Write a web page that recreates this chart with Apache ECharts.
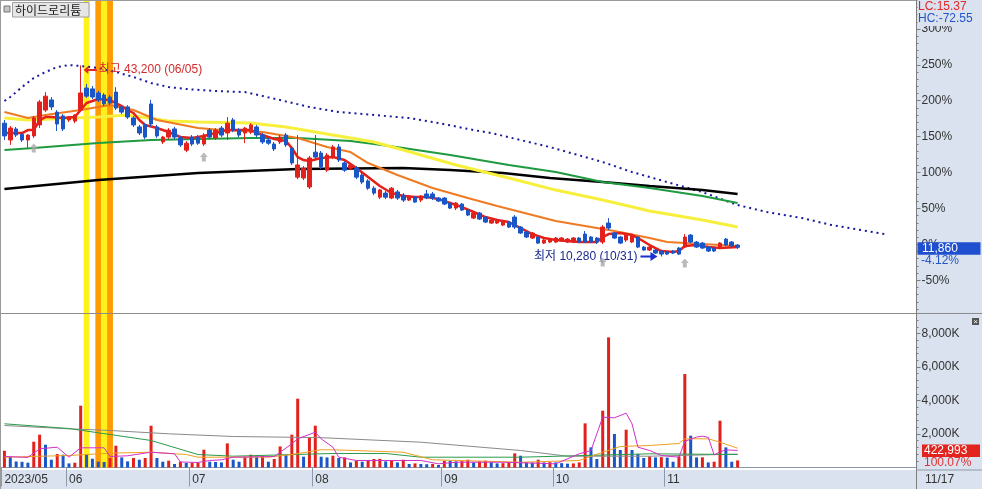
<!DOCTYPE html>
<html><head><meta charset="utf-8">
<script src="https://cdn.jsdelivr.net/npm/echarts@6/dist/echarts.min.js"></script>
<style>html,body{margin:0;padding:0;background:#fff}#c{width:982px;height:489px}</style>
</head><body><div id="c"></div>
<script>
// ---------------- data ----------------
const stockName = '하이드로리튬';
const months = ['2023/05','2023/06','2023/07','2023/08','2023/09','2023/10','2023/11'];
const daysByMonth = [
  [16,17,18,19,22,23,24,25,26,30,31],
  [1,2,5,7,8,9,12,13,14,15,16,19,20,21,22,23,26,27,28,29,30],
  [3,4,5,6,7,10,11,12,13,14,17,18,19,20,21,24,25,26,27,28,31],
  [1,2,3,4,7,8,9,10,11,14,16,17,18,21,22,23,24,25,28,29,30,31],
  [1,4,5,6,7,8,11,12,13,14,15,18,19,20,21,22,25,26,27],
  [4,5,6,10,11,12,13,16,17,18,19,20,23,24,25,26,27,30,31],
  [1,2,3,6,7,8,9,10,13,14,15,16,17]
];
const futureSlots = 30;
// [open, close, low, high]
const ohlc = [
[33250,31050,30350,33800],[30350,32400,29500,32750],[32250,31200,30850,32600],[31350,30350,30000,31700],
[30350,31200,28950,31350],[31050,34150,30700,34500],[32950,36900,32400,37250],[35500,37900,35150,38600],
[37250,36050,35500,37750],[35150,33100,31900,35500],[34500,32250,31900,34800],[33800,34300,33450,34500],
[33600,34650,33250,34800],[35500,38450,35150,43200],[39300,37900,37600,40000],[39150,37750,37400,39650],
[38450,37250,36900,38800],[38100,36550,36200,38450],[37750,36700,36350,38100],[38600,35850,35500,39450],
[36050,35150,34800,36350],[36050,34300,33950,36350],[34150,32950,32600,34500],[32600,31550,31200,32950],
[32950,30850,30500,33250],[36550,33100,32600,37250],[32600,31050,30700,32950],[30000,30850,29650,31050],
[30850,32050,30500,32400],[32250,30850,30500,32600],[30700,29500,29150,31050],[28600,29800,28250,30150],
[30850,29650,29300,31200],[30850,29800,29500,31200],[29650,31200,29300,31550],[32050,30850,30500,32400],
[30700,32050,30350,32400],[32400,31200,30850,32750],[31550,33250,30350,34300],[33800,32050,31700,34150],
[32050,31200,30850,32400],[31550,32400,29800,32600],[31700,32950,31350,33250],[32600,31200,30850,32950],
[31200,30000,29650,31550],[30350,29800,29500,30700],[29650,28800,28450,30000],[30000,30850,29650,31200],
[31200,29500,29150,31550],[28950,26400,26050,29300],[23950,26050,23600,31200],[23800,25500,23450,25850],
[22250,27250,21900,27600],[28250,27400,27050,31200],[28100,25700,25350,28450],[25150,27750,24850,28100],
[27400,29150,27050,29500],[29150,26900,26550,29650],[26400,25150,24850,26700],[25500,26050,25150,26200],
[25500,23950,23600,25850],[24300,23100,22750,24650],[23300,22050,21750,23600],[22050,21200,20850,22400],
[20500,21750,20150,21900],[21200,20500,20150,21550],[20350,22050,20150,22250],[21400,20350,20000,21750],
[20850,20000,19660,21200],[20000,20700,19830,20850],[20500,19660,19490,20700],[20000,20700,19660,20850],
[21050,20350,20150,21750],[21050,20350,20000,21400],[20350,19830,19660,20500],[20350,19310,19140,20500],
[19490,18620,18450,19660],[18620,19490,18280,19660],[19310,18280,18110,19490],[18280,17420,17250,18450],
[16900,17760,16730,17940],[17760,16730,16560,17940],[17070,16210,16040,17250],[16040,16560,15870,16730],
[16040,16380,15870,16560],[15700,16380,15520,16560],[16210,15350,15180,16380],[17070,15350,15010,17420],
[15350,14320,14140,15520],[14490,13630,13460,14660],[13460,14320,13280,14490],[13630,12590,12420,13800],
[12590,13110,12420,13280],[12770,13110,12590,13280],[12770,13460,12590,13630],[12940,13460,12770,13630],
[12770,13280,12590,13460],[12770,13460,12590,13630],[13460,12770,12590,13630],[14140,12770,12590,14660],
[13630,12770,12590,13800],[13460,12770,12420,13630],[12770,15350,12420,15700],[16040,15180,14830,16900],
[14320,13460,13280,14490],[13630,12590,12420,13800],[13110,13970,12770,14140],[12770,13970,12590,14140],
[13630,11900,11730,13800],[11900,11390,11220,12080],[11390,11900,11220,12080],[11390,10870,10700,11560],
[11220,10700,10280,11390],[11040,10700,10530,11220],[11220,10870,10700,11390],[11730,10700,10530,11900],
[11900,13630,11730,14140],[13970,12770,12590,14140],[12770,11900,11730,12940],[12590,11730,11560,12770],
[11900,11220,11040,12080],[11730,11220,11040,11900],[11730,12590,11560,12770],[13280,12250,12080,13460],
[12770,12080,11900,12940],[12250,11860,11560,12420]
];
// volume in thousands of shares
const volumeK = [
1000,645,360,340,287,1540,1960,1360,465,806,764,245,287,3690,806,525,350,330,567,1300,
603,365,567,465,567,2495,567,346,406,209,346,268,280,300,1063,346,330,304,1440,465,
346,645,764,645,680,346,507,1260,764,1960,4107,645,1800,2495,645,603,704,567,603,304,
406,346,447,507,520,365,406,304,465,209,245,209,195,215,150,406,390,365,380,465,
304,365,406,304,245,260,304,842,704,304,290,465,304,320,304,260,230,245,304,2635,
1202,507,3390,7770,2000,1045,2257,1045,806,567,663,603,620,590,346,663,5580,1900,603,610,
304,346,2795,1200,346,422.993
];
// moving-average lines: [slot, price]
const ma5 = [[0,31550],[3,31550],[4,32060],[5,32060],[6,33790],[7,34300],[8,34300],[10,34130],[12,34300],[13,35510],[14,36720],[16,37400],[18,37230],[20,36200],[21,35510],[22,35000],[23,33790],[24,32930],[26,32410],[28,31720],[30,30860],[32,30690],[34,31030],[36,31550],[38,32060],[40,32060],[42,32060],[44,31200],[46,30510],[47,30340],[48,30170],[49,28960],[50,27410],[51,26890],[52,26720],[54,27240],[56,27410],[58,26890],[60,25520],[62,23970],[64,22420],[66,21210],[68,20690],[70,20520],[72,20520],[74,20170],[76,19490],[78,18800],[80,17940],[82,17070],[84,16560],[86,16210],[88,15180],[90,14140],[92,13460],[94,13110],[96,12940],[98,12770],[100,12770],[101,12770],[102,13630],[103,14140],[105,14320],[107,13970],[108,13460],[110,12250],[112,11220],[114,11040],[115,11220],[116,12080],[118,12250],[120,11900],[122,11730],[125,11900]];
const ma20 = [[0,35160],[4,34130],[7,34650],[13,35510],[18,36370],[22,35510],[26,33790],[33,32410],[37,32060],[44,31720],[50,30690],[55,29130],[59,28270],[62,26380],[67,24310],[73,22070],[79,20350],[84,18970],[90,17420],[94,16380],[98,15700],[104,14660],[110,13460],[113,12770],[119,12420],[125,12080]];
const ma60 = [[0,34130],[4,33790],[16,34300],[21,34650],[28,33610],[33,33440],[42,33270],[48,32580],[56,31200],[63,30000],[68,28620],[77,26030],[86,23790],[94,21720],[102,20000],[110,18110],[119,16560],[125,15350]];
const ma120 = [[0,28620],[5,28960],[16,29820],[25,30340],[33,30510],[42,30690],[50,30690],[59,30170],[63,29650],[68,28960],[76,27760],[86,26030],[94,24830],[102,23100],[110,22070],[119,20690],[125,19490]];
const ma240 = [[0,21900],[16,23450],[33,24650],[50,25340],[68,25520],[76,25170],[85,24650],[93,23790],[102,23100],[110,22420],[119,21730],[125,21040]];
const leadLine = [[0,37060],[1,37750],[3,39470],[5,41030],[7,42060],[9,42920],[11,43260],[13,43090],[16,42750],[19,42060],[22,41200],[25,40160],[28,39470],[31,39130],[36,38780],[41,38610],[47,37230],[52,36030],[57,35170],[63,34650],[69,34130],[74,33270],[80,32060],[83,31550],[93,29130],[102,26550],[107,24830],[113,23100],[119,21380],[125,19140],[130,17940],[136,16900],[141,15700],[150,14140]];
// volume moving averages: [slot, K shares]
const volMa5 = [[0,657],[4,600],[6,1116],[9,1212],[11,615],[13,1176],[17,1176],[18,657],[21,700],[25,913],[29,818],[30,330],[33,300],[35,418],[37,460],[39,615],[46,657],[49,1415],[50,1713],[53,2107],[54,1713],[56,1212],[57,615],[60,418],[71,418],[74,220],[77,316],[85,316],[94,220],[98,818],[100,1015],[102,3003],[104,2967],[106,3242],[107,2609],[108,1212],[110,1015],[112,716],[115,615],[116,1560],[118,1818],[119,1871],[120,1799],[121,753],[122,932],[123,1051],[125,1022]];
const volMa20 = [[0,615],[11,716],[18,854],[25,913],[31,776],[33,615],[45,615],[49,776],[54,1057],[56,1057],[68,913],[73,460],[88,316],[98,418],[102,913],[105,1254],[110,1313],[115,1433],[116,1713],[120,1713],[122,1510],[125,1152]];
const volMa60 = [[0,2609],[11,2328],[18,1970],[25,1612],[33,776],[39,675],[56,836],[65,836],[71,615],[88,615],[99,716],[110,818],[125,776]];
const volMa120 = [[0,2507],[11,2310],[18,2209],[28,2012],[39,1851],[54,1780],[71,1510],[88,1015],[96,675],[110,675],[125,800]];
// highlighted days (0 = yellow, 1 = orange)
const bandDays = [[14,0],[16,1],[17,0],[18,1]];
// signal arrows [slot, price]
const signalMarks = [[5,28960],[34,27410],[102,9320],[116,9150]];
const basePrice = 12370;
const pctTicks = [-50,0,50,100,150,200,250,300];
const volTicksK = [2000,4000,6000,8000];
const volRatioText = '100.07%';

// ---------------- build ----------------
const FONT = '"Liberation Sans","Noto Sans CJK KR",sans-serif';
const UP = '#e3211c', DOWN = '#1b56c6';
const PANEL = '#d9e2ee';
const cats = [], monthStart = [];
months.forEach((m, mi) => daysByMonth[mi].forEach((d, di) => {
  cats.push(m + '/' + String(d).padStart(2, '0')); monthStart.push(di === 0);
}));
const nTrade = cats.length;
for (let k = 0; k < futureSlots; k++) { cats.push(''); monthStart.push(false); }
const monthLabel = i => i === 0 ? months[0] : cats[i].slice(5, 7);
const pctToPrice = p => basePrice * (1 + p / 100);
const minorPct = []; for (let p = -90; p <= 340; p += 10) minorPct.push(p);
const minorVol = []; for (let v = 400; v <= 9000; v += 400) minorVol.push(v);
const fmt = n => Math.round(n).toLocaleString('en-US');

let hiIdx = 0, loIdx = 0;
ohlc.forEach((d, i) => { if (d[3] > ohlc[hiIdx][3]) hiIdx = i; if (d[2] < ohlc[loIdx][2]) loIdx = i; });
const hiPrice = ohlc[hiIdx][3], loPrice = ohlc[loIdx][2];
const lastClose = ohlc[nTrade - 1][1];
const volData = volumeK.map((v, i) => ({ value: v, itemStyle: { color: (i === 0 || v >= volumeK[i - 1]) ? UP : DOWN } }));

const bandSeries = (xi, yi) => ({
  type: 'custom', xAxisIndex: xi, yAxisIndex: yi, z: 1, silent: true,
  data: bandDays.map(b => [b[0], 0, b[1]]), encode: { x: 0, y: 1 },
  renderItem: (params, api) => {
    const c = api.coord([api.value(0), 0]);
    const w = api.size([1, 0])[0];
    const cs = params.coordSys;
    return { type: 'rect', shape: { x: c[0] - w / 2, y: cs.y, width: w, height: cs.height },
      style: { fill: api.value(2) === 1 ? '#ff9d00' : '#fff21c' } };
  }
});
const lineS = (data, color, width, xi, yi, type) => ({
  type: 'line', data, xAxisIndex: xi, yAxisIndex: yi, showSymbol: false, symbol: 'none', z: 3, silent: true,
  lineStyle: { color, width, type: type || 'solid', cap: 'butt' }
});

const option = {
  animation: false,
  backgroundColor: '#ffffff',
  textStyle: { fontFamily: FONT },
  grid: [
    { left: 1.5, right: 65.5, top: 0, height: 313 },
    { left: 1.5, right: 65.5, top: 314, height: 153.5 }
  ],
  xAxis: [
    { type: 'category', gridIndex: 0, data: cats, boundaryGap: true, show: false },
    { type: 'category', gridIndex: 1, data: cats, boundaryGap: true, offset: 2.5,
      axisLine: { show: true, lineStyle: { color: '#8d99a8' } },
      axisTick: { show: true, interval: i => monthStart[i], length: 19, lineStyle: { color: '#8d99a8' } },
      axisLabel: { show: true, interval: i => monthStart[i], formatter: (v, i) => monthLabel(i), align: 'left',
        margin: 4, color: '#333', fontSize: 12, fontFamily: FONT, hideOverlap: false } }
  ],
  yAxis: [
    { type: 'value', gridIndex: 0, position: 'right', min: pctToPrice(-95.6), max: pctToPrice(340.3),
      splitLine: { show: false },
      axisLine: { show: true, onZero: false, lineStyle: { color: '#7d7d7d' } },
      axisTick: { show: true, length: 4, customValues: pctTicks.map(pctToPrice), lineStyle: { color: '#7d7d7d' } },
      axisLabel: { customValues: pctTicks.map(pctToPrice), formatter: v => Math.round((v / basePrice - 1) * 100) + '%',
        margin: 5, color: '#333', fontSize: 12, fontFamily: FONT } },
    { type: 'value', gridIndex: 0, position: 'right', min: pctToPrice(-95.6), max: pctToPrice(340.3),
      splitLine: { show: false }, axisLine: { show: false },
      axisTick: { show: true, length: 2, customValues: minorPct.map(pctToPrice), lineStyle: { color: '#7d7d7d' } },
      axisLabel: { show: false } },
    { type: 'value', gridIndex: 1, position: 'right', min: 0, max: 9164,
      splitLine: { show: false },
      axisLine: { show: true, onZero: false, lineStyle: { color: '#7d7d7d' } },
      axisTick: { show: true, length: 4, customValues: volTicksK, lineStyle: { color: '#7d7d7d' } },
      axisLabel: { customValues: volTicksK, formatter: v => fmt(v) + 'K', margin: 5, color: '#333', fontSize: 12, fontFamily: FONT } },
    { type: 'value', gridIndex: 1, position: 'right', min: 0, max: 9164,
      splitLine: { show: false }, axisLine: { show: false },
      axisTick: { show: true, length: 2, customValues: minorVol, lineStyle: { color: '#7d7d7d' } },
      axisLabel: { show: false } }
  ],
  series: [
    bandSeries(0, 0),
    bandSeries(1, 2),
    lineS(leadLine, '#1a1aa0', 2, 0, 0, [2, 3.9]),
    lineS(ma240, '#000000', 2.5, 0, 0),
    lineS(ma120, '#1f9a40', 2, 0, 0),
    lineS(ma60, '#f6f03c', 3, 0, 0),
    lineS(ma20, '#f07a22', 2, 0, 0),
    lineS(ma5, '#e42019', 2.5, 0, 0),
    { type: 'candlestick', xAxisIndex: 0, yAxisIndex: 0, data: ohlc, barWidth: 4, z: 5,
      itemStyle: { color: UP, color0: DOWN, borderColor: UP, borderColor0: DOWN, borderWidth: 1 },
      markPoint: { animation: false, silent: true, data: [
        { coord: [hiIdx, hiPrice], symbol: 'path://M0,4 L5,0 L5,3 L14,3 L14,5 L5,5 L5,8 Z', symbolSize: [13, 8],
          symbolOffset: [9.5, 4.6], itemStyle: { color: '#e02828' },
          label: { show: true, position: 'right', distance: 2, formatter: '최고 ' + fmt(hiPrice) + ' (' + cats[hiIdx].slice(5) + ')',
            color: '#d42a2a', fontSize: 12, fontFamily: FONT } },
        { coord: [loIdx, loPrice], symbol: 'path://M0,3.5 L10,3.5 L10,0 L17,4.5 L10,9 L10,5.5 L0,5.5 Z', symbolSize: [17, 9],
          symbolOffset: [-12.4, 0], itemStyle: { color: '#1c2fd0' },
          label: { show: true, position: 'left', distance: 3, formatter: '최저 ' + fmt(loPrice) + ' (' + cats[loIdx].slice(5) + ')',
            color: '#1a2a8c', fontSize: 12, fontFamily: FONT } }
      ] } },
    { type: 'scatter', xAxisIndex: 0, yAxisIndex: 0, data: signalMarks, z: 6, silent: true,
      symbol: 'path://M4,0 L8,4.5 L6,4.5 L6,9 L2,9 L2,4.5 L0,4.5 Z', symbolSize: [8, 9], itemStyle: { color: '#a9a9a9' } },
    { type: 'bar', xAxisIndex: 1, yAxisIndex: 2, data: volData, barWidth: 3, z: 2 },
    lineS(volMa120, '#8a8a8a', 1, 1, 2),
    lineS(volMa60, '#2a9a4a', 1, 1, 2),
    lineS(volMa20, '#f0a020', 1, 1, 2),
    lineS(volMa5, '#d030c8', 1, 1, 2)
  ]
};
const chart = echarts.init(document.getElementById('c'), null, { renderer: 'canvas' });
chart.setOption(option);

const yClose = chart.convertToPixel({ yAxisIndex: 0 }, lastClose);
const lastVol = volumeK[nTrade - 1];
const yVol = chart.convertToPixel({ yAxisIndex: 2 }, lastVol);
const volBoxTop = Math.min(yVol - 6, 444.5);
const closePct = (lastClose / basePrice - 1) * 100;
const lc = (lastClose / loPrice - 1) * 100, hc = (lastClose / hiPrice - 1) * 100;
const T = (x, y, text, color, extra) => Object.assign({ type: 'text', x, y, z: 100,
  style: Object.assign({ text, fill: color, font: '12px ' + FONT, textVerticalAlign: 'middle' }, extra || {}) });

chart.setOption({ graphic: [
  { type: 'rect', z: -1, shape: { x: 916.5, y: 0, width: 66, height: 489 }, style: { fill: PANEL } },
  { type: 'rect', z: -1, shape: { x: 0, y: 470, width: 982, height: 19 }, style: { fill: PANEL } },
  { type: 'line', z: 50, shape: { x1: 0, y1: 313.5, x2: 982, y2: 313.5 }, style: { stroke: '#8c8c8c', lineWidth: 1 } },
  { type: 'line', z: 50, shape: { x1: 0.5, y1: 0, x2: 0.5, y2: 489 }, style: { stroke: '#9a9a9a', lineWidth: 1 } },
  { type: 'line', z: 50, shape: { x1: 0, y1: 0.5, x2: 982, y2: 0.5 }, style: { stroke: '#9a9a9a', lineWidth: 1 } },
  { type: 'line', z: 50, shape: { x1: 916.5, y1: 0, x2: 916.5, y2: 489 }, style: { stroke: '#7d7d7d', lineWidth: 1 } },
  { type: 'line', z: 50, shape: { x1: 916.5, y1: 470, x2: 982, y2: 470 }, style: { stroke: '#8d99a8', lineWidth: 1 } },
  // header
  { type: 'rect', z: 60, shape: { x: 4, y: 6, width: 6, height: 6 }, style: { fill: '#c4c4c4', stroke: '#777', lineWidth: 1 } },
  { type: 'rect', z: 60, shape: { x: 12.5, y: 2.5, width: 76.5, height: 14.5 }, style: { fill: '#e6e6e6', stroke: '#a0a0a0', lineWidth: 1 } },
  T(15, 10, stockName, '#1a1a1a', { font: '12px "Noto Sans CJK KR",sans-serif' }),
  // LC / HC
  { type: 'rect', z: 90, shape: { x: 917.5, y: 0, width: 64.5, height: 26 }, style: { fill: PANEL } },
  T(918, 6.5, 'LC:' + lc.toFixed(2), '#e02828'),
  T(918, 19, 'HC:' + hc.toFixed(2), '#2456c8'),
  // close price box
  { type: 'rect', z: 90, shape: { x: 917.5, y: yClose - 5, width: 63, height: 12.5 }, style: { fill: '#1f4fcf' } },
  T(922, yClose + 1.3, fmt(lastClose), '#ffffff'),
  T(921, yClose + 13.5, closePct.toFixed(2) + '%', '#2456c8'),
  // volume box
  { type: 'rect', z: 90, shape: { x: 922, y: volBoxTop, width: 58, height: 12.5 }, style: { fill: '#e3231e' } },
  T(924, volBoxTop + 6.5, fmt(lastVol * 1000), '#ffffff'),
  T(924, volBoxTop + 18.5, volRatioText, '#e03030'),
  // close icon
  { type: 'rect', z: 90, shape: { x: 972, y: 318, width: 7, height: 7 }, style: { fill: '#555555' } },
  T(973.2, 321.3, '×', '#ffffff', { font: '8px sans-serif' }),
  // last date
  T(925, 479.5, cats[nTrade - 1].slice(5), '#333333')
] });
</script></body></html>
